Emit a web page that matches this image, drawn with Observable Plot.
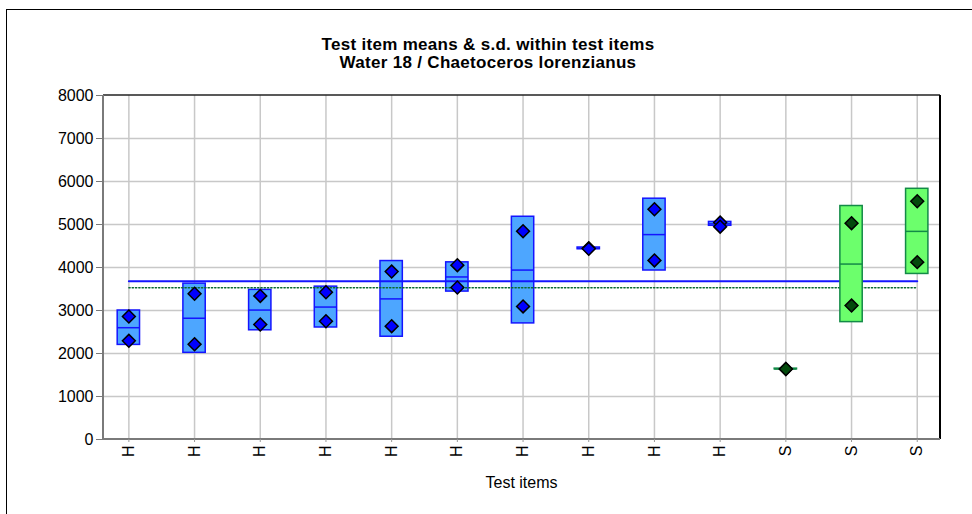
<!DOCTYPE html>
<html><head><meta charset="utf-8">
<script src="https://cdn.jsdelivr.net/npm/d3@7"></script>
<script src="https://cdn.jsdelivr.net/npm/@observablehq/plot@0.6"></script>
<style>
body{margin:0;background:#fff;overflow:hidden}
#wrap{position:relative;width:972px;height:514px;overflow:hidden;font-family:"Liberation Sans",Arial,sans-serif;background:#fff}
#border{position:absolute;left:6px;top:9px;width:1000px;height:600px;border-left:1px solid #000;border-top:1px solid #000}
#chart{position:absolute;left:0;top:0}
#title{position:absolute;left:0;width:976px;top:36px;text-align:center;font-weight:bold;font-size:17px;letter-spacing:0.3px;line-height:18px;color:#000}
#xlabel{position:absolute;left:103px;width:837px;top:474px;text-align:center;font-size:16px;color:#000}
</style></head><body>
<div id="wrap"><div id="border"></div><div id="chart"></div>
<div id="title">Test item means &amp; s.d. within test items<br>Water 18 / Chaetoceros lorenzianus</div>
<div id="xlabel">Test items</div></div>
<script>
// ---- data ----
const labels = ["H","H","H","H","H","H","H","H","H","H","S","S","S"];
const means  = [2600, 2820, 3010, 3080, 3270, 3780, 3940, 4445, 4765, 5015, 1640, 4080, 4840];
const sds    = [ 400,  805,  470,  475,  880,  340, 1240,   20,  835,   45,    8, 1350,  990];
const rep1   = [2860, 3390, 3340, 3425, 3905, 4055, 4845, 4450, 5355, 5045, 1640, 5030, 5540];
const rep2   = [2295, 2215, 2675, 2750, 2635, 3535, 3095, 4435, 4165, 4950, 1640, 3115, 4125];
const overallH = 3680;   // solid blue reference line
const overallS = 3530;   // dotted green reference line
const yTicks = [0, 1000, 2000, 3000, 4000, 5000, 6000, 7000, 8000];

// ---- derived tables ----
const items = labels.map((label, i) => ({i, label, mean: means[i], lo: means[i] - sds[i], hi: means[i] + sds[i]}));
const pts = labels.flatMap((label, i) => [{i, label, v: rep1[i]}, {i, label, v: rep2[i]}]);
const idx = items.map(d => d.i);
const isH = d => d.label === "H";
const hItems = items.filter(isH), sItems = items.filter(d => !isH(d));
const refH = [{i: idx[0], v: overallH}, {i: idx[idx.length - 1], v: overallH}];
const refS = [{i: idx[0], v: overallS}, {i: idx[idx.length - 1], v: overallS}];

const BLUE_FILL = "#4da6ff", BLUE = "#1414ff", GREEN_FILL = "#6cff6c", GREEN = "#138a47";
const boxFill = d => isH(d) ? BLUE_FILL : GREEN_FILL;
const boxStroke = d => isH(d) ? BLUE : GREEN;
const dotFill = d => isH(d) ? "#0000ff" : "#034a0c";

const edges = (index, scales, values, dim) => {
  const g = d3.create("svg:g");
  const x0 = dim.marginLeft, x1 = dim.width - dim.marginRight, y0 = dim.marginTop, y1 = dim.height - dim.marginBottom;
  g.append("line").attr("x1", x0).attr("x2", x1).attr("y1", y0).attr("y2", y0).attr("stroke", "#222").attr("stroke-width", 1.5);
  g.append("line").attr("x1", x1).attr("x2", x1).attr("y1", y0).attr("y2", y1).attr("stroke", "#000").attr("stroke-width", 2);
  g.append("line").attr("x1", x0).attr("x2", x0).attr("y1", y0).attr("y2", y1 + 1).attr("stroke", "#7a7a7a").attr("stroke-width", 2);
  g.append("line").attr("x1", x0).attr("x2", x1).attr("y1", y1).attr("y2", y1).attr("stroke", "#7a7a7a").attr("stroke-width", 2);
  return g.node();
};

const chart = Plot.plot({
  width: 972, height: 514,
  marginTop: 95, marginBottom: 75, marginLeft: 103, marginRight: 32,
  style: {fontFamily: '"Liberation Sans", Arial, sans-serif', color: "#000", background: "transparent"},
  x: {type: "band", domain: idx, paddingInner: 0.66, paddingOuter: 0.2, align: 0.54, round: false},
  y: {domain: [0, 8000]},
  color: {type: "identity"},
  marks: [
    Plot.gridY({ticks: yTicks.filter(v => v > 0 && v < 8000), stroke: "#c8c8c8", strokeOpacity: 1, strokeWidth: 1.5}),
    Plot.gridX({stroke: "#c8c8c8", strokeOpacity: 1, strokeWidth: 1.5}),
    Plot.barY(hItems, {x: "i", y1: "lo", y2: "hi", fill: boxFill, stroke: boxStroke, strokeWidth: 1.5}),
    Plot.tickY(hItems, {x: "i", y: "mean", stroke: boxStroke, strokeWidth: 1.5}),
    Plot.lineY(refH, {x: "i", y: "v", stroke: BLUE, strokeWidth: 2}),
    Plot.lineY(refS, {x: "i", y: "v", stroke: "#0a6a32", strokeWidth: 1.4, strokeDasharray: "1.3,2"}),
    Plot.barY(sItems, {x: "i", y1: "lo", y2: "hi", fill: boxFill, stroke: boxStroke, strokeWidth: 1.5}),
    Plot.tickY(sItems, {x: "i", y: "mean", stroke: boxStroke, strokeWidth: 1.5}),
    Plot.dot(pts, {x: "i", y: "v", symbol: "diamond2", r: 5.8, fill: dotFill, stroke: "#000", strokeWidth: 1.5}),
    edges,
    Plot.axisY({ticks: yTicks, tickFormat: d => String(d), tickSize: 7, tickPadding: 3, stroke: "#7a7a7a", fontSize: 16, label: null}),
    Plot.axisX({tickFormat: i => labels[i], tickRotate: -90, tickSize: 3, tickPadding: 3, stroke: "#999", fontSize: 16, label: null})
  ]
});
document.getElementById("chart").appendChild(chart);
</script>
</body></html>
